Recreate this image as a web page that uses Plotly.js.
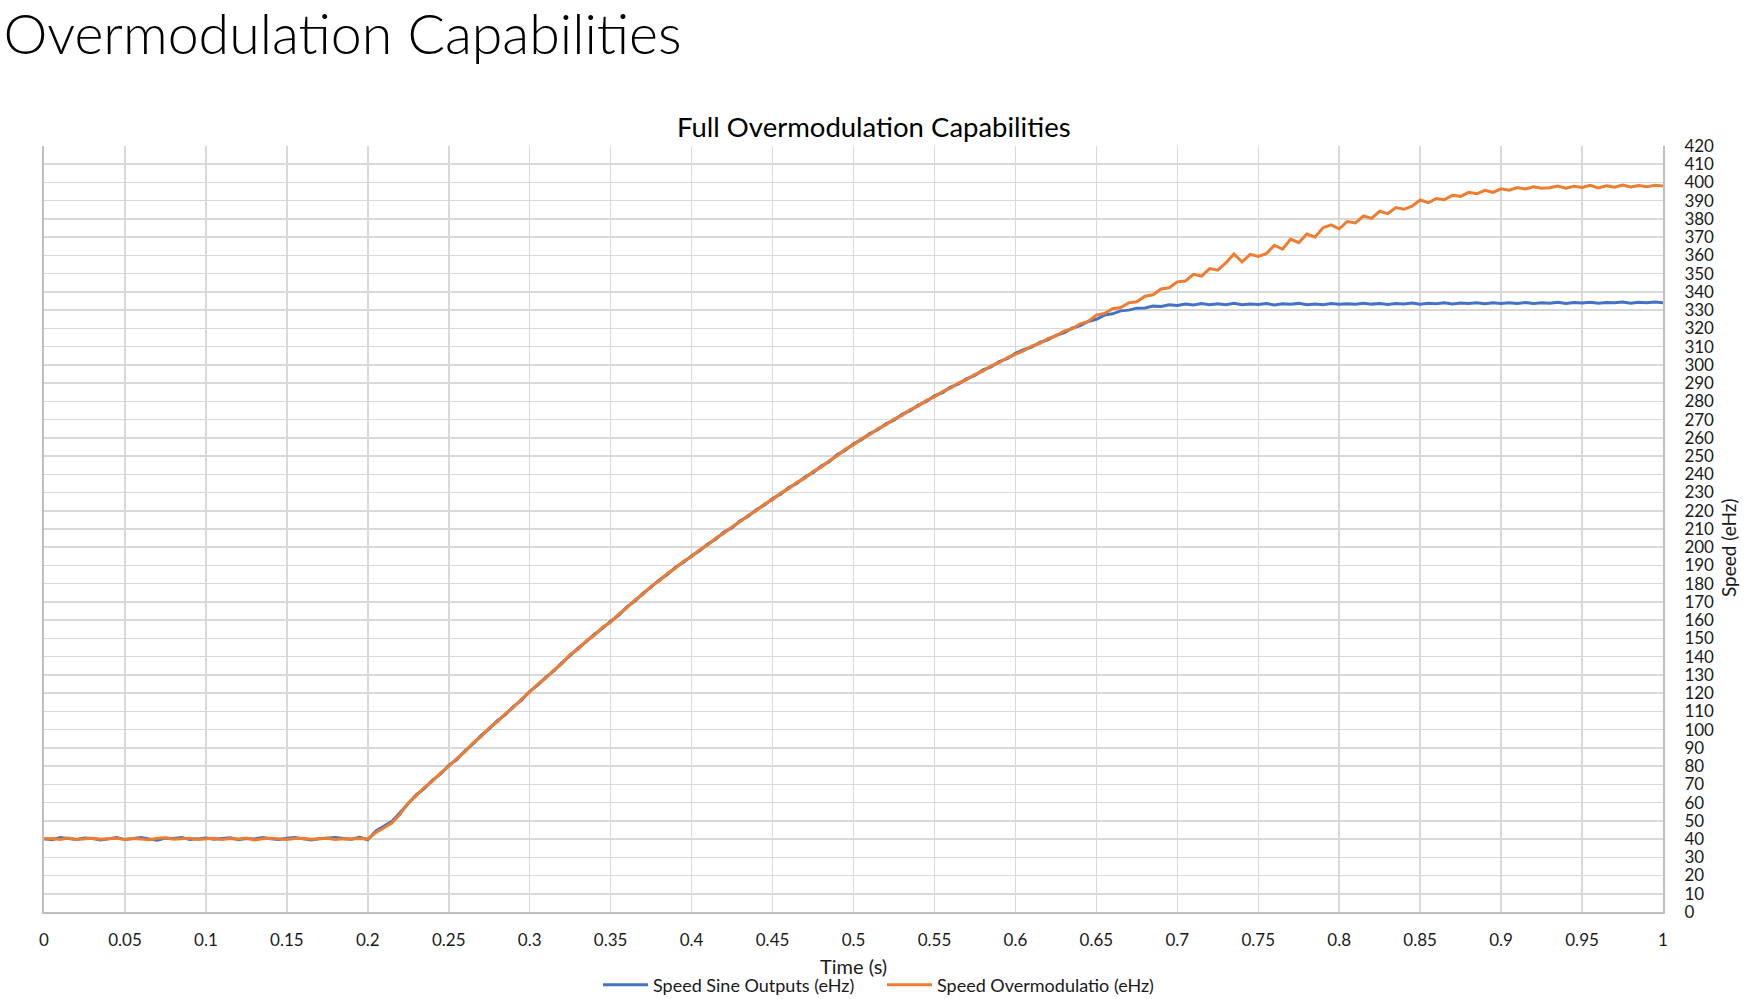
<!DOCTYPE html>
<html>
<head>
<meta charset="utf-8">
<script src="https://cdn.plot.ly/plotly-3.0.1.min.js"></script>
<style>
html,body{margin:0;padding:0;background:#fff;}
#chart{width:1748px;height:999px;}
</style>
</head>
<body>
<div id="chart"></div>
<script>
// ---- data ----
const TIME_START = 0;      // s
const TIME_STEP = 0.005;   // s between samples

const speedSine = [
  40.2, 39.6, 40.8, 40.1, 39.8, 40.6, 40.3, 39.5, 40.4, 40.9,
  39.7, 40.2, 40.8, 40.0, 39.4, 40.5, 40.3, 40.9, 39.8, 40.1,
  40.6, 39.9, 40.2, 40.7, 39.6, 40.3, 40.0, 40.8, 40.2, 39.7,
  40.4, 40.9, 40.1, 39.5, 40.2, 40.6, 40.8, 40.3, 39.9, 41.0,
  39.6,
  44.5, 47.0, 49.8, 54.5, 59.2, 64.4, 67.8, 72.3, 75.7, 80.4,
  83.6, 88.4, 92.1, 96.8, 100.4, 104.9, 108.2, 112.8, 116.2, 121.0,
  124.4, 128.8, 132.2, 136.8, 140.6, 144.8, 148.2, 152.3, 155.5, 159.5,
  162.7, 167.3, 170.5, 174.8, 178.1, 182.1, 185.0, 189.0, 191.7, 195.3,
  198.0, 201.8, 204.5, 208.3, 210.7, 214.5, 217.0, 220.6, 223.1, 226.7,
  229.1, 232.7, 235.0, 238.5, 240.9, 244.5, 246.8, 250.8, 253.2, 256.7,
  259.0, 262.3, 264.4, 267.7, 269.7, 272.9, 274.9, 278.0, 279.9, 283.0,
  284.8, 287.8, 289.6, 292.5, 294.2, 297.2, 298.9, 301.8, 303.4, 306.3,
  308.3, 309.7, 312.3, 313.7, 316.2, 317.6, 320.1, 321.5, 323.8, 325.0,
  327.3, 328.0, 329.6, 330.0, 331.1, 331.2, 332.2, 332.0, 332.9, 332.6,
  333.4, 332.8, 333.6, 332.9, 333.5, 333.0, 333.7, 332.9, 333.4, 333.1,
  333.6, 332.8, 333.5, 333.2, 333.7, 332.9, 333.4, 333.0, 333.6, 333.2,
  333.5, 333.2, 333.8, 333.3, 333.6, 333.1, 333.7, 333.4, 333.9, 333.3,
  333.8, 333.5, 334.0, 333.4, 333.9, 333.6, 334.1, 333.5, 334.0, 333.7,
  334.0, 333.6, 334.2, 333.7, 334.1, 333.8, 334.3, 333.7, 334.2, 333.9,
  334.3, 333.8, 334.2, 334.0, 334.4, 333.8, 334.3, 334.0, 334.4, 334.1
];

const speedOvermod = [
  40.0, 40.3, 39.8, 40.6, 39.7, 40.2, 40.5, 39.9, 40.1, 40.4,
  39.8, 40.3, 40.0, 39.6, 40.4, 40.7, 39.9, 40.2, 40.5, 39.8,
  40.1, 40.4, 39.7, 40.3, 40.0, 40.6, 39.5, 40.2, 40.4, 40.0,
  39.8, 40.3, 40.5, 39.9, 40.1, 40.4, 39.8, 40.2, 40.0, 40.3,
  40.1,
  43.6, 46.2, 48.9, 53.7, 59.8, 63.8, 68.4, 71.8, 76.3, 79.8,
  84.3, 87.8, 92.8, 96.2, 101.0, 104.3, 108.8, 112.2, 116.8, 120.6,
  125.0, 128.3, 132.8, 136.2, 141.2, 144.2, 148.8, 151.7, 156.1, 158.9,
  163.3, 166.7, 171.1, 174.2, 178.7, 181.5, 185.6, 188.4, 192.3, 194.8,
  198.6, 201.2, 205.1, 207.7, 211.3, 213.9, 217.6, 220.0, 223.7, 226.1,
  229.7, 232.1, 235.6, 237.9, 241.5, 243.9, 247.4, 250.2, 253.8, 256.1,
  259.6, 261.7, 265.0, 267.1, 270.3, 272.3, 275.5, 277.4, 280.5, 282.4,
  285.4, 287.2, 290.2, 291.9, 294.8, 296.6, 299.5, 301.2, 304.0, 305.7,
  307.7, 310.3, 311.7, 314.4, 315.8, 318.5, 319.7, 322.5, 323.8, 327.3,
  328.2, 330.8, 331.4, 334.0, 334.6, 337.6, 338.4, 341.6, 342.3, 345.5,
  346.0, 349.6, 348.7, 352.8, 351.9, 355.9, 360.8, 356.4, 360.6, 359.4,
  361.0, 365.6, 363.4, 368.9, 367.0, 371.8, 370.0, 375.2, 376.8, 374.6,
  378.6, 377.8, 381.6, 380.3, 384.2, 382.9, 386.2, 385.3, 387.0, 390.4,
  388.9, 391.2, 390.6, 393.0, 392.4, 394.6, 393.8, 395.7, 394.6, 396.5,
  395.8, 397.2, 396.4, 397.6, 396.9, 397.1, 398.0, 396.8, 397.9, 397.3,
  398.4, 397.0, 398.2, 397.4, 398.6, 397.5, 398.3, 397.6, 398.5, 398.0
];

const seriesNames = ['Speed Sine Outputs (eHz)', 'Speed Overmodulatio (eHz)'];

const xTickVals = [0, 0.05, 0.1, 0.15, 0.2, 0.25, 0.3, 0.35, 0.4, 0.45, 0.5,
                   0.55, 0.6, 0.65, 0.7, 0.75, 0.8, 0.85, 0.9, 0.95, 1];
const xTickText = ['0', '0.05', '0.1', '0.15', '0.2', '0.25', '0.3', '0.35', '0.4', '0.45', '0.5',
                   '0.55', '0.6', '0.65', '0.7', '0.75', '0.8', '0.85', '0.9', '0.95', '1'];

const pageTitle = 'Overmodulation Capabilities';
const chartTitle = 'Full Overmodulation Capabilities';
const xTitle = 'Time (s)';
const yTitle = 'Speed (eHz)';

// ---- chart ----
const FONT = 'Lato, Carlito, "Liberation Sans", sans-serif';
const TXT = '#1a1a1a';

const traces = [
  {
    type: 'scatter', mode: 'lines', name: seriesNames[0],
    x0: TIME_START, dx: TIME_STEP, y: speedSine,
    line: {color: '#4472C4', width: 3}
  },
  {
    type: 'scatter', mode: 'lines', name: seriesNames[1],
    x0: TIME_START, dx: TIME_STEP, y: speedOvermod,
    line: {color: '#ED7D31', width: 3}
  }
];

const W = 1748, H = 999;
const M = {l: 44, r: 85, t: 146, b: 87, autoexpand: false};
const pw = W - M.l - M.r, ph = H - M.t - M.b;
const px2x = px => (px - M.l) / pw;
const py2y = py => (H - M.b - py) / ph;

const layout = {
  width: W, height: H,
  margin: M,
  paper_bgcolor: '#ffffff', plot_bgcolor: '#ffffff',
  font: {family: FONT, color: TXT, size: 17},
  title: {
    text: pageTitle,
    font: {family: FONT, size: 55.5, weight: 300, color: '#000'},
    xref: 'container', yref: 'container',
    x: 0.002, xanchor: 'left', y: 1 - 35 / H, yanchor: 'middle'
  },
  showlegend: true,
  legend: {
    orientation: 'h',
    x: px2x(598), xanchor: 'left',
    y: py2y(985), yanchor: 'middle',
    itemwidth: 45,
    entrywidth: 224, entrywidthmode: 'pixels',
    font: {family: FONT, size: 18, color: TXT},
    bgcolor: 'rgba(0,0,0,0)', traceorder: 'normal'
  },
  xaxis: {
    range: [0, 1],
    tickmode: 'array', tickvals: xTickVals, ticktext: xTickText,
    showgrid: true, gridcolor: '#d9d9d9', gridwidth: 1.5,
    zeroline: false,
    showline: true, linecolor: '#bfbfbf', linewidth: 2,
    ticks: '', ticklabelstandoff: 12,
    tickfont: {family: FONT, size: 17, color: TXT},
    fixedrange: true
  },
  yaxis: {
    range: [0, 420], side: 'right',
    tick0: 0, dtick: 10,
    showgrid: true, gridcolor: '#d9d9d9', gridwidth: 1.5,
    zeroline: false,
    showline: true, mirror: true, linecolor: '#bfbfbf', linewidth: 2,
    ticks: '', ticklabelstandoff: 16,
    tickfont: {family: FONT, size: 17, color: TXT},
    fixedrange: true
  },
  annotations: [
    {
      text: chartTitle, xref: 'paper', yref: 'paper',
      x: px2x(874), y: py2y(126), xanchor: 'center', yanchor: 'middle',
      showarrow: false, font: {family: FONT, size: 27.5, color: '#000'}
    },
    {
      text: xTitle, xref: 'paper', yref: 'paper',
      x: px2x(854), y: py2y(966), xanchor: 'center', yanchor: 'middle',
      showarrow: false, font: {family: FONT, size: 20, color: TXT}
    },
    {
      text: yTitle, xref: 'paper', yref: 'paper',
      x: px2x(1728), y: py2y(548), xanchor: 'center', yanchor: 'middle',
      textangle: -90,
      showarrow: false, font: {family: FONT, size: 19, color: TXT}
    }
  ]
};

Plotly.newPlot('chart', traces, layout, {staticPlot: true, displayModeBar: false});
</script>
</body>
</html>
